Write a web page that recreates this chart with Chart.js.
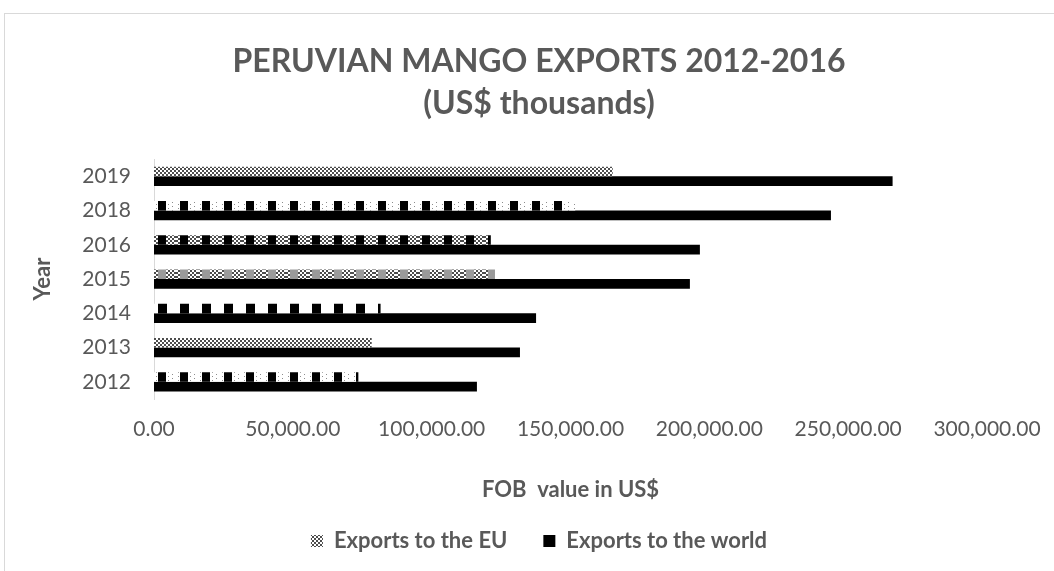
<!DOCTYPE html>
<html>
<head>
<meta charset="utf-8">
<title>Peruvian mango exports</title>
<script src="https://cdn.jsdelivr.net/npm/chart.js@4.4.1/dist/chart.umd.min.js"></script>
<style>
    html, body { margin: 0; padding: 0; background: #fff; overflow: hidden; }
    #frame { position: absolute; left: 4px; top: 13px; width: 1100px; height: 620px; border: 1px solid #d9d9d9; }
    #wrap { position: absolute; left: 0; top: 0; width: 1054px; height: 571px; }
</style>
</head>
<body>
<div id="frame"></div>
<div id="wrap"><canvas id="chart" width="1054" height="571"></canvas></div>
<script>
var years = ['2019', '2018', '2016', '2015', '2014', '2013', '2012'];
var exportsEU = [165200, 151700, 121300, 122800, 81600, 78400, 73600];
var exportsWorld = [266000, 243800, 196600, 193000, 137600, 131800, 116300];
var xTicks = [0, 50000, 100000, 150000, 200000, 250000, 300000];

var FONT = "Lato, 'Noto Sans', sans-serif";
var GREY = '#595959';

// small tiles used as fill patterns for the EU bars
function tile(w, h, draw) {
    var c = document.createElement('canvas');
    c.width = w; c.height = h;
    var g = c.getContext('2d');
    g.fillStyle = '#fff';
    g.fillRect(0, 0, w, h);
    draw(g);
    return g.createPattern(c, 'repeat');
}

function checker(g, x0, x1, h) {
    g.fillStyle = '#4d4d4d';
    for (var y = 0; y < h; y += 2) {
        for (var x = x0; x < x1; x += 2) {
            if (((x + y) / 2) % 2 == 0) g.fillRect(x, y, 2, 2);
        }
    }
}

var ctx = document.getElementById('chart').getContext('2d');

var pChecker = tile(4, 4, function (g) { checker(g, 0, 4, 4); });
var pBlocksDotted = tile(22, 4, function (g) {
    g.fillStyle = '#8c8c8c';
    g.fillRect(2, 0, 1, 1); g.fillRect(14, 0, 1, 1); g.fillRect(18, 2, 1, 1);
    g.fillStyle = '#000';
    g.fillRect(4, 0, 8, 4);
});
var pBlocksChecker = tile(22, 4, function (g) {
    checker(g, 0, 22, 4);
    g.fillStyle = '#000';
    g.fillRect(4, 0, 8, 4);
});
var pBlocksFaint = tile(22, 4, function (g) {
    checker(g, 0, 22, 4);
    g.fillStyle = '#9a9a9a';
    g.fillRect(4, 0, 8, 4);
});
var pBlocks = tile(22, 4, function (g) {
    g.fillStyle = '#000';
    g.fillRect(4, 0, 9, 4);
});
var pLegend = tile(5, 5, function (g) {
    g.fillStyle = '#000';
    g.fillRect(0, 4, 1, 1); g.fillRect(2, 4, 1, 1); g.fillRect(4, 0, 1, 5);
});

var euPatterns = [pChecker, pBlocksDotted, pBlocksChecker, pBlocksFaint, pBlocks, pChecker, pBlocksDotted];

new Chart(ctx, {
    type: 'bar',
    data: {
        labels: years,
        datasets: [
            {
                label: 'Exports to the EU',
                data: exportsEU,
                backgroundColor: function (c) {
                    if (c.type == 'data') return euPatterns[c.dataIndex];
                    return pLegend;
                },
                borderWidth: 0,
                categoryPercentage: 0.56,
                barPercentage: 1.0
            },
            {
                label: 'Exports to the world',
                data: exportsWorld,
                backgroundColor: '#000000',
                borderWidth: 0,
                categoryPercentage: 0.56,
                barPercentage: 1.0
            }
        ]
    },
    options: {
        indexAxis: 'y',
        responsive: false,
        animation: false,
        layout: { padding: { left: 24, right: 0, top: 0, bottom: 9 } },
        plugins: {
            title: {
                display: true,
                text: ['PERUVIAN MANGO EXPORTS 2012-2016', '(US$ thousands)'],
                color: GREY,
                font: { family: FONT, size: 32, weight: 'bold', lineHeight: 1.3 },
                padding: { top: 41, bottom: 35 }
            },
            legend: {
                position: 'bottom',
                labels: {
                    color: GREY,
                    font: { family: FONT, size: 22, weight: 'bold' },
                    boxWidth: 12,
                    boxHeight: 12,
                    padding: 36
                }
            },
            tooltip: { enabled: false }
        },
        scales: {
            x: {
                min: 0,
                max: 300000,
                afterBuildTicks: function (axis) {
                    axis.ticks = xTicks.map(function (v) { return { value: v }; });
                },
                afterFit: function (axis) {
                    axis.height = 95;
                    axis.paddingRight = 67;
                },
                grid: { display: false, drawTicks: false },
                border: { display: false },
                ticks: {
                    color: GREY,
                    font: { family: FONT, size: 21 },
                    padding: 18,
                    maxRotation: 0,
                    callback: function (v) {
                        return Number(v).toLocaleString('en-US', { minimumFractionDigits: 2, maximumFractionDigits: 2 });
                    }
                },
                title: {
                    display: true,
                    text: 'FOB  value in US$',
                    color: GREY,
                    font: { family: FONT, size: 22, weight: 'bold' },
                    padding: { top: 0, bottom: -9 }
                }
            },
            y: {
                afterFit: function (axis) { axis.width = 130; },
                grid: { display: false, drawTicks: false },
                border: { display: true, color: '#d9d9d9', width: 1 },
                ticks: {
                    color: GREY,
                    font: { family: FONT, size: 21 },
                    padding: 23
                },
                title: {
                    display: true,
                    text: 'Year',
                    color: GREY,
                    font: { family: FONT, size: 22, weight: 'bold' },
                    padding: { top: 6, bottom: 0 }
                }
            }
        }
    }
});
</script>
</body>
</html>
